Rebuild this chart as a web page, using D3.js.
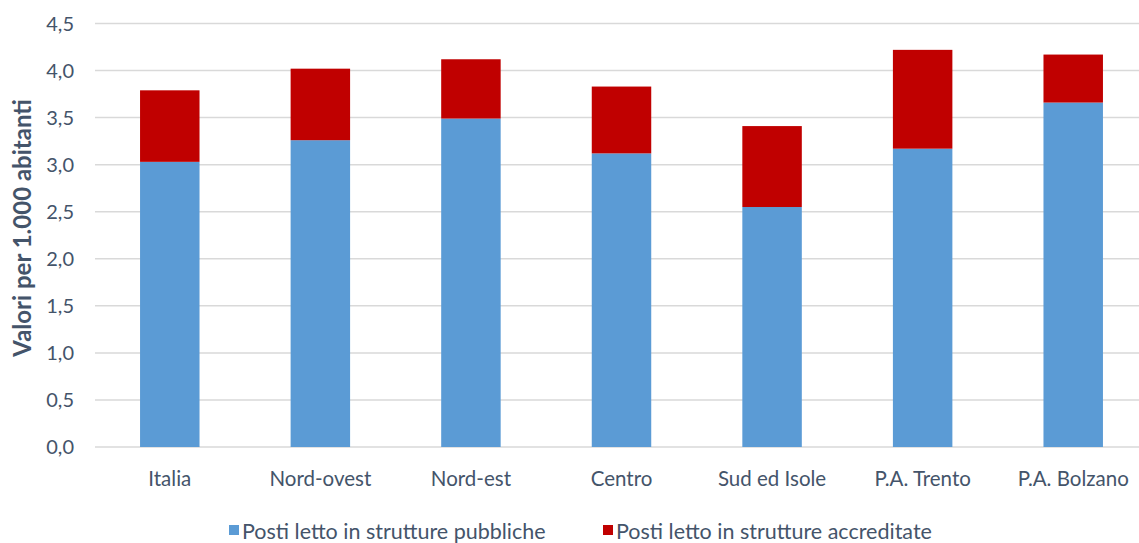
<!DOCTYPE html>
<html><head><meta charset="utf-8">
<script src="https://cdn.jsdelivr.net/npm/d3@7"></script>
<style>body{margin:0;background:#fff;} svg{display:block;} text{font-family:Lato,"Open Sans",sans-serif;fill:#44546A;}</style>
</head><body>
<svg id="c" width="1139" height="543"></svg>
<script>
const categories = ["Italia","Nord-ovest","Nord-est","Centro","Sud ed Isole","P.A. Trento","P.A. Bolzano"];
const pubbliche = [3.03,3.26,3.49,3.12,2.55,3.17,3.66];
const accreditate = [0.76,0.76,0.63,0.71,0.86,1.05,0.51];
const seriesNames = ["Posti letto in strutture pubbliche","Posti letto in strutture accreditate"];
const colors = ["#5B9BD5","#C00000"];
const yTicks = [0,0.5,1,1.5,2,2.5,3,3.5,4,4.5];

const svg = d3.select("#c");
const x = d3.scaleBand().domain(categories).range([94.5,1148.5]).paddingInner(0.605).paddingOuter(0.3025);
const y = d3.scaleLinear().domain([0,4.5]).range([447,23.5]);
const fmt = v => d3.format(".1f")(v).replace(".",",");

// gridlines
svg.append("g").selectAll("line").data(yTicks).join("line")
  .attr("x1",95).attr("x2",1139).attr("y1",d=>y(d)).attr("y2",d=>y(d))
  .attr("stroke","#d9d9d9").attr("stroke-width",1.5);

// y labels
svg.append("g").selectAll("text").data(yTicks).join("text")
  .attr("x",74).attr("y",d=>y(d)).attr("dy","0.36em").attr("text-anchor","end")
  .attr("font-size",20).text(fmt);

const data = categories.map((c,i)=>({c, a:pubbliche[i], b:accreditate[i]}));
const stack = d3.stack().keys(["a","b"])(data);
svg.append("g").selectAll("g").data(stack).join("g").attr("fill",(d,i)=>colors[i])
  .selectAll("rect").data(d=>d).join("rect")
  .attr("x",d=>x(d.data.c)).attr("width",x.bandwidth())
  .attr("y",d=>y(d[1])).attr("height",d=>y(d[0])-y(d[1]));

// x labels
svg.append("g").selectAll("text").data(categories).join("text")
  .attr("x",d=>x(d)+x.bandwidth()/2).attr("y",486).attr("text-anchor","middle")
  .attr("font-size",20.5).text(d=>d);

// axis title
svg.append("text").attr("transform","translate(31,228) rotate(-90)").attr("text-anchor","middle")
  .attr("font-size",24).attr("font-weight","bold").text("Valori per 1.000 abitanti");

// legend
const legX = [229,603];
const lg = svg.append("g").selectAll("g").data(seriesNames).join("g")
  .attr("transform",(d,i)=>`translate(${legX[i]},531)`);
lg.append("rect").attr("x",0).attr("y",-6).attr("width",10).attr("height",10).attr("fill",(d,i)=>colors[i]);
lg.append("text").attr("x",13).attr("dy","0.36em").attr("font-size",21.5).text(d=>d);
</script>
</body></html>
